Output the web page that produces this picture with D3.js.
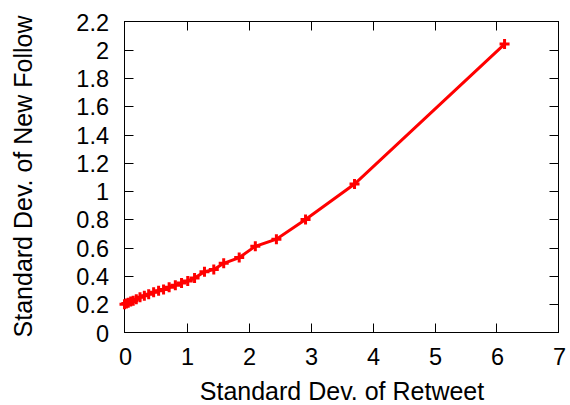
<!DOCTYPE html>
<html><head><meta charset="utf-8">
<script src="https://cdn.jsdelivr.net/npm/d3@7"></script>
<style>body{margin:0;background:#fff}svg{display:block}text{font-family:"Liberation Sans",Arial,sans-serif;fill:#000}</style>
</head><body>
<svg id="c" width="570" height="405"></svg>
<script>
const xValues = [0.0, 0.03, 0.06, 0.1, 0.14, 0.19, 0.25, 0.32, 0.39, 0.47, 0.55, 0.63, 0.72, 0.82, 0.92, 1.02, 1.13, 1.29, 1.44, 1.60, 1.85, 2.11, 2.45, 2.92, 3.71, 6.13];
const yValues = [0.20, 0.205, 0.21, 0.22, 0.225, 0.235, 0.25, 0.26, 0.27, 0.285, 0.295, 0.305, 0.32, 0.335, 0.35, 0.365, 0.385, 0.43, 0.445, 0.49, 0.53, 0.61, 0.66, 0.80, 1.05, 2.04];
const xTicks = [0,1,2,3,4,5,6,7];
const yTicks = [0,0.2,0.4,0.6,0.8,1,1.2,1.4,1.6,1.8,2,2.2];
const xTitle = "Standard Dev. of Retweet";
const yTitle = "Standard Dev. of New Follow";

const svg = d3.select("#c");
const L=124.5, R=558.5, T=21.5, B=332.5;
const x = d3.scaleLinear().domain([0,7]).range([L,R]);
const y = d3.scaleLinear().domain([0,2.2]).range([B,T]);
const fs = 23.5, tfs = 25;

const g = svg.append("g");
xTicks.forEach(t=>{
  const px = Math.round(x(t))+0.5;
  if(t>0 && t<7){
    g.append("line").attr("x1",px).attr("x2",px).attr("y1",B).attr("y2",B-9).attr("stroke","#000");
    g.append("line").attr("x1",px).attr("x2",px).attr("y1",T).attr("y2",T+9).attr("stroke","#000");
  }
  g.append("text").attr("x",x(t)+1).attr("y",365).attr("text-anchor","middle").attr("font-size",fs).text(d3.format("")(t));
});
yTicks.forEach(t=>{
  const py = Math.round(y(t))+0.5;
  if(t>0 && t<2.2){
    g.append("line").attr("x1",L).attr("x2",L+9).attr("y1",py).attr("y2",py).attr("stroke","#000");
    g.append("line").attr("x1",R).attr("x2",R-9).attr("y1",py).attr("y2",py).attr("stroke","#000");
  }
  g.append("text").attr("x",109).attr("y",y(t)+9).attr("text-anchor","end").attr("font-size",fs).text(d3.format("")(t));
});
svg.append("rect").attr("x",L).attr("y",T).attr("width",R-L).attr("height",B-T).attr("fill","none").attr("stroke","#000").attr("stroke-width",1);

svg.append("text").attr("x",342).attr("y",400).attr("text-anchor","middle").attr("font-size",tfs).text(xTitle);
svg.append("text").attr("transform",`translate(32,176.5) rotate(-90)`).attr("text-anchor","middle").attr("font-size",tfs).text(yTitle);

const data = xValues.map((v,i)=>({x:v,y:yValues[i]}));
svg.append("path").datum(data).attr("fill","none").attr("stroke","#ff0000").attr("stroke-width",3)
  .attr("d", d3.line().x(d=>x(d.x)).y(d=>y(d.y)));
svg.append("g").selectAll("path.m").data(data).join("path")
  .attr("d", d=>{const cx=x(d.x), cy=y(d.y), s=5; return `M${cx-s},${cy}H${cx+s}M${cx},${cy-s}V${cy+s}`;})
  .attr("stroke","#ff0000").attr("stroke-width",3).attr("fill","none");
</script>
</body></html>
